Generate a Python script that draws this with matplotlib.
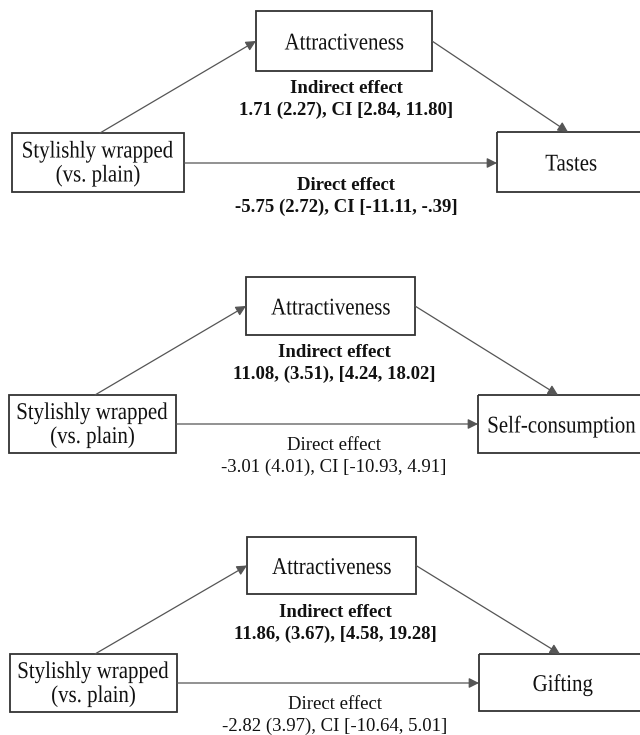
import matplotlib
matplotlib.use("Agg")
import matplotlib.pyplot as plt
from matplotlib.patches import Rectangle, FancyArrowPatch, PathPatch
from matplotlib.textpath import TextPath
from matplotlib.font_manager import FontProperties
from matplotlib.transforms import Affine2D

# Three mediation models: stylishly wrapped -> attractiveness -> outcome
predictor_label = ["Stylishly wrapped", "(vs. plain)"]
mediator_label = "Attractiveness"
outcome_labels = ["Tastes", "Self-consumption", "Gifting"]

indirect_stats = [
    "1.71 (2.27), CI [2.84, 11.80]",
    "11.08, (3.51), [4.24, 18.02]",
    "11.86, (3.67), [4.58, 19.28]",
]
direct_stats = [
    "-5.75 (2.72), CI [-11.11, -.39]",
    "-3.01 (4.01), CI [-10.93, 4.91]",
    "-2.82 (3.97), CI [-10.64, 5.01]",
]
direct_bold = [True, False, False]

# Layout of each panel in pixel space (x0, x1, y0, y1)
MED_BOX = [(256, 432, 11, 71), (246, 415, 277, 335), (247, 416, 537, 594)]
PRED_BOX = [(12, 184, 133, 192), (9, 176, 395, 453), (10, 177, 654, 712)]
OUT_BOX = [(497, 650, 132, 192), (478, 650, 395, 453), (479, 650, 654, 711)]
PRED_TOP_X = [100, 95, 95]
OUT_TOP_X = [568, 558, 560]
DIRECT_Y = [163, 424, 683]
OUT_TEXT_X = [571, 562, 563]
LABEL_X = [346, 334, 335]
INDIRECT_Y = [86, 350, 610]
DIRECT_TXT_Y = [183, 443, 702]

FONT = "Liberation Serif"
EDGE = "#333333"
LINE = "#555555"
BOX_EM = 24      # box label size in px
BOX_SX = 0.87    # horizontal squeeze of box labels

fig = plt.figure(figsize=(6.4, 7.35), dpi=100)
ax = fig.add_axes([0, 0, 1, 1])
ax.set_xlim(0, 640)
ax.set_ylim(735, 0)
ax.axis("off")

box_font = FontProperties(family=FONT)


def squeezed_text(cx, baseline, s):
    # text drawn as a path so it can be narrowed horizontally
    tp = TextPath((0, 0), s, size=BOX_EM, prop=box_font)
    ext = tp.get_extents()
    mid = (ext.x0 + ext.x1) / 2 * BOX_SX
    tr = Affine2D().scale(BOX_SX, -1).translate(cx - mid, baseline) + ax.transData
    ax.add_patch(PathPatch(tp, transform=tr, facecolor="#111111",
                           edgecolor="none", lw=0))


def box(b):
    x0, x1, y0, y1 = b
    ax.add_patch(Rectangle((x0, y0), x1 - x0, y1 - y0, fill=False,
                           edgecolor=EDGE, linewidth=1.3))


def arrow(p0, p1):
    ax.add_patch(FancyArrowPatch(p0, p1, arrowstyle="-|>,head_length=6,head_width=3",
                                 color=LINE, linewidth=0.9, shrinkA=0, shrinkB=0,
                                 mutation_scale=1))


for i in range(3):
    mb, pb, ob = MED_BOX[i], PRED_BOX[i], OUT_BOX[i]
    box(mb)
    box(pb)
    box(ob)

    med_y = (mb[2] + mb[3]) / 2
    squeezed_text((mb[0] + mb[1]) / 2, med_y + 8.5, mediator_label)
    pred_y = (pb[2] + pb[3]) / 2
    squeezed_text((pb[0] + pb[1]) / 2, pred_y - 5, predictor_label[0])
    squeezed_text((pb[0] + pb[1]) / 2, pred_y + 19, predictor_label[1])
    squeezed_text(OUT_TEXT_X[i], (ob[2] + ob[3]) / 2 + 8.5, outcome_labels[i])

    arrow((PRED_TOP_X[i], pb[2]), (mb[0], med_y))
    arrow((mb[1], med_y), (OUT_TOP_X[i], ob[2]))
    arrow((pb[1], DIRECT_Y[i]), (ob[0], DIRECT_Y[i]))

    ax.text(LABEL_X[i], INDIRECT_Y[i] - 6, "Indirect effect\n" + indirect_stats[i],
            ha="center", va="top", family=FONT, fontsize=13.5,
            fontweight="bold", linespacing=1.35, color="#111111")
    ax.text(LABEL_X[i], DIRECT_TXT_Y[i] - 6, "Direct effect\n" + direct_stats[i],
            ha="center", va="top", family=FONT, fontsize=13.5,
            fontweight="bold" if direct_bold[i] else "normal",
            linespacing=1.35, color="#111111")

fig.savefig("out.png", dpi=100, facecolor="white")
